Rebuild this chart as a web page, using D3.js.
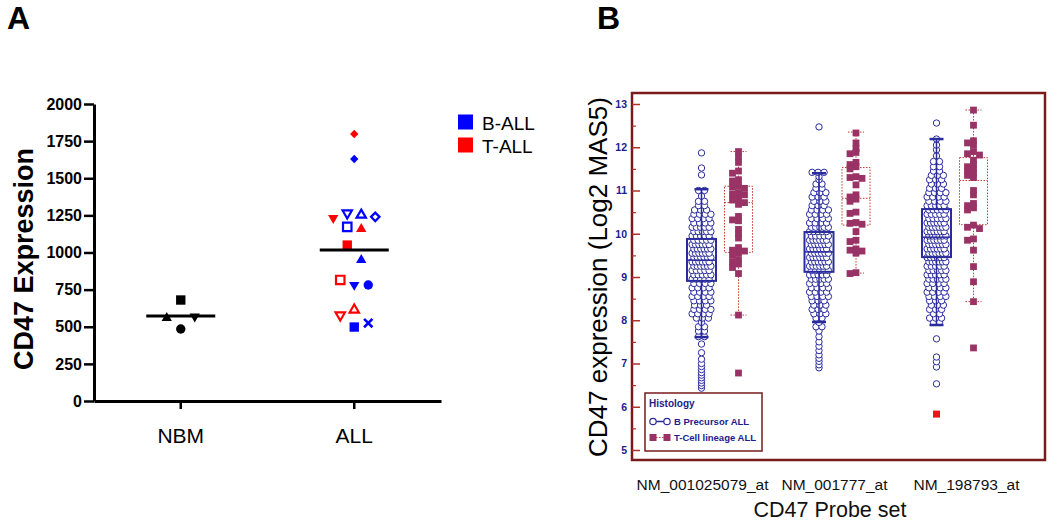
<!DOCTYPE html>
<html><head><meta charset="utf-8">
<script src="https://cdn.jsdelivr.net/npm/d3@7"></script>
<style>body{margin:0;background:#fff}</style>
</head><body>
<svg id="c" width="1050" height="525"></svg>
<script>
// ---------------- Panel A data ----------------
const aCategories = ["NBM", "ALL"];
const aYTicks = [0, 250, 500, 750, 1000, 1250, 1500, 1750, 2000];
const nbmValues = [680, 566, 562, 485];
const nbmShapes = ["square", "triangle", "triangleDown", "circle"];
const nbmJitter = [0, -2, 2, 0];
const nbmMedian = 572;
const allValues = [1798, 1630, 1225, 1259, 1259, 1240, 1172, 1165, 1050, 956, 815, 775, 781, 620, 572, 498, 525];
const allShapes = ["diamond", "diamond", "triangleDown", "triangleDown", "triangle", "diamond", "square", "triangle", "square", "triangle", "square", "triangleDown", "circle", "triangle", "triangleDown", "square", "times"];
const allFilled = [true, true, true, false, false, false, false, true, true, true, false, true, true, false, false, true, true];
const allSubtype = ["T", "B", "T", "B", "B", "B", "B", "T", "T", "B", "T", "B", "B", "T", "T", "B", "B"];
const allJitter = [0, 0, -3, -1, 1, 3, -1, 1, -1, 1, -2, 0, 2, 0, -2, 0, 2];
const allMedian = 1017;
const aLegendLabels = ["B-ALL", "T-ALL"];

// ---------------- Panel B data ----------------
const probes = ["NM_001025079_at", "NM_001777_at", "NM_198793_at"];
const bYTicks = [5, 6, 7, 8, 9, 10, 11, 12, 13];
const bYMinorTicks = [5.5, 6.5, 7.5, 8.5, 9.5, 10.5, 11.5, 12.5];
// B precursor ALL: [expression value, number of patients at that level]
const bPrecursor1 = [[6.43,1],[6.49,1],[6.55,1],[6.61,1],[6.67,1],[6.73,1],[6.79,1],[6.86,1],[6.93,1],[7.0,1],[7.1,1],[7.25,1],[7.45,1],[7.62,2],[7.75,2],[7.85,2],[7.95,1],[8.05,3],[8.15,4],[8.25,4],[8.35,3],[8.45,4],[8.55,4],[8.65,4],[8.75,4],[8.85,4],[8.95,5],[9.05,5],[9.15,5],[9.25,6],[9.35,6],[9.45,6],[9.55,6],[9.65,6],[9.75,6],[9.85,5],[9.95,5],[10.05,5],[10.15,5],[10.25,4],[10.35,4],[10.45,4],[10.55,3],[10.65,2],[10.75,2],[10.87,1],[11.0,2],[11.36,1],[11.52,1],[11.87,1]];
const bPrecursor2 = [[6.9,1],[6.97,1],[7.05,1],[7.12,1],[7.2,1],[7.3,1],[7.4,1],[7.5,1],[7.62,1],[7.75,1],[7.85,2],[7.95,1],[8.05,2],[8.15,3],[8.25,3],[8.35,3],[8.45,3],[8.55,4],[8.65,4],[8.75,4],[8.85,4],[8.95,5],[9.05,5],[9.15,5],[9.25,6],[9.35,6],[9.45,6],[9.55,6],[9.65,6],[9.75,6],[9.85,6],[9.95,5],[10.05,5],[10.15,5],[10.25,4],[10.35,4],[10.45,4],[10.55,4],[10.65,3],[10.75,3],[10.85,3],[10.95,3],[11.05,2],[11.15,2],[11.25,1],[11.32,1],[11.42,3],[12.47,1]];
const bPrecursor3 = [[6.53,1],[6.92,1],[7.04,1],[7.15,1],[7.57,1],[7.95,2],[8.05,3],[8.15,2],[8.25,3],[8.35,3],[8.45,3],[8.55,4],[8.65,4],[8.75,4],[8.85,4],[8.95,5],[9.05,5],[9.15,5],[9.25,5],[9.35,6],[9.45,6],[9.55,6],[9.65,6],[9.75,6],[9.85,6],[9.95,6],[10.05,6],[10.15,6],[10.25,6],[10.35,5],[10.45,5],[10.55,5],[10.65,5],[10.75,4],[10.85,4],[10.95,4],[11.05,3],[11.15,3],[11.25,3],[11.35,3],[11.45,2],[11.55,2],[11.67,2],[11.8,1],[11.94,1],[12.05,1],[12.19,1],[12.56,1]];
// T-cell lineage ALL: individual patients
const tCell1 = [11.9, 11.78, 11.65, 11.45, 11.4, 11.25, 11.22, 11.1, 11.08, 11.05, 10.95, 10.92, 10.9, 10.8, 10.78, 10.72, 10.68, 10.4, 10.32, 10.3, 10.1, 10.0, 9.9, 9.68, 9.62, 9.6, 9.55, 9.5, 9.4, 9.35, 9.3, 9.22, 9.08, 8.12, 6.78];
const tCell2 = [12.33, 12.1, 11.97, 11.88, 11.85, 11.65, 11.6, 11.55, 11.5, 11.32, 11.3, 11.28, 11.13, 10.9, 10.85, 10.8, 10.75, 10.5, 10.47, 10.26, 10.24, 10.22, 10.05, 9.85, 9.82, 9.65, 9.62, 9.6, 9.55, 9.1, 9.08];
const tCell3 = [12.86, 12.51, 12.15, 12.1, 12.05, 11.9, 11.85, 11.82, 11.7, 11.6, 11.55, 11.5, 11.45, 11.4, 11.35, 11.3, 11.0, 10.9, 10.7, 10.65, 10.6, 10.55, 10.2, 10.15, 10.12, 9.88, 9.85, 9.62, 9.24, 8.89, 8.43, 7.36];
// box plot statistics per probe
const bQ1 = [8.91, 9.12, 9.46];
const bMedian = [9.39, 9.58, 9.92];
const bQ3 = [9.88, 10.04, 10.57];
const bWhiskerLo = [7.61, 7.96, 7.89];
const bWhiskerHi = [11.03, 11.4, 12.19];
const tQ1 = [9.57, 10.2, 10.21];
const tMedian = [10.72, 10.82, 11.23];
const tQ3 = [11.1, 11.53, 11.76];
const tWhiskerLo = [8.12, 9.09, 8.43];
const tWhiskerHi = [11.9, 12.35, 12.86];
const strayProbe = [2];
const strayValue = [5.83];
const bLegendLabels = ["B Precursor ALL", "T-Cell lineage ALL"];

// ---------------- drawing ----------------
const svg = d3.select("#c");
const FONT = "'Liberation Sans', Arial, Helvetica, sans-serif";

svg.append("text").attr("x", 7).attr("y", 29).attr("font-family", FONT)
  .attr("font-weight", "bold").attr("font-size", 32).text("A");
svg.append("text").attr("x", 597).attr("y", 29).attr("font-family", FONT)
  .attr("font-weight", "bold").attr("font-size", 32).text("B");

// symbols
function mk(drawFn) { return { draw: drawFn }; }
const shapes = {
  square: mk((c, s) => { const h = Math.sqrt(s) / 2; c.rect(-h, -h, 2 * h, 2 * h); }),
  circle: mk((c, s) => { const h = Math.sqrt(s) / 2; c.moveTo(h, 0); c.arc(0, 0, h, 0, 2 * Math.PI); }),
  triangle: mk((c, s) => { const h = Math.sqrt(s) / 2; c.moveTo(0, -h * 1.05); c.lineTo(h * 1.1, h * 0.85); c.lineTo(-h * 1.1, h * 0.85); c.closePath(); }),
  triangleDown: mk((c, s) => { const h = Math.sqrt(s) / 2; c.moveTo(0, h * 1.05); c.lineTo(h * 1.1, -h * 0.85); c.lineTo(-h * 1.1, -h * 0.85); c.closePath(); }),
  diamond: mk((c, s) => { const h = Math.sqrt(s) / 2; c.moveTo(0, -h); c.lineTo(h, 0); c.lineTo(0, h); c.lineTo(-h, 0); c.closePath(); }),
  times: mk((c, s) => { const h = Math.sqrt(s) / 2; c.moveTo(-h, -h); c.lineTo(h, h); c.moveTo(h, -h); c.lineTo(-h, h); })
};

// ----- Panel A -----
const yA = d3.scaleLinear().domain([0, 2000]).range([401, 104]);
const xA = d3.scaleBand().domain(aCategories).range([94, 441]).padding(0);
const jitterA = d3.scaleLinear().domain([0, 1]).range([0, 7]);
const colorA = d3.scaleOrdinal().domain(["NBM", "B", "T"]).range(["#000000", "#0000ff", "#ff0000"]);
const medianHalf = d3.scaleLinear().domain([0, 1]).range([0, 34.5]);

const gA = svg.append("g");
const yAxA = gA.append("g").attr("transform", "translate(94,0)")
  .call(d3.axisLeft(yA).tickValues(aYTicks).tickFormat(d3.format("d")).tickSize(10).tickSizeOuter(0).tickPadding(2));
yAxA.select(".domain").attr("stroke", "#000").attr("stroke-width", 3);
yAxA.selectAll(".tick line").attr("stroke", "#000").attr("stroke-width", 2.5);
yAxA.selectAll(".tick text").attr("font-family", FONT).attr("font-weight", "bold")
  .attr("font-size", 16).attr("fill", "#000");

const xAxA = gA.append("g").attr("transform", "translate(0,401)")
  .call(d3.axisBottom(xA).tickSize(8).tickSizeOuter(0).tickPadding(19));
xAxA.select(".domain").attr("stroke", "#000").attr("stroke-width", 3);
xAxA.selectAll(".tick line").attr("stroke", "#000").attr("stroke-width", 2.5);
xAxA.selectAll(".tick text").attr("font-family", FONT).attr("font-size", 21).attr("fill", "#000");

gA.append("text").attr("transform", "translate(33,259) rotate(-90)")
  .attr("text-anchor", "middle").attr("font-family", FONT).attr("font-weight", "bold")
  .attr("font-size", 27).text("CD47 Expression");

const aPoints = [];
nbmValues.forEach((v, i) => aPoints.push({ cat: "NBM", v, shape: nbmShapes[i], filled: true, type: "NBM", j: nbmJitter[i] }));
allValues.forEach((v, i) => aPoints.push({ cat: "ALL", v, shape: allShapes[i], filled: allFilled[i], type: allSubtype[i], j: allJitter[i] }));
const cx = c => xA(c) + xA.bandwidth() / 2;

gA.selectAll("path.pt").data(aPoints).join("path").attr("class", "pt")
  .attr("transform", d => `translate(${cx(d.cat) + jitterA(d.j)},${yA(d.v)})`)
  .attr("d", d => d3.symbol().type(shapes[d.shape]).size(d.shape === "times" ? 70 : (d.filled ? (d.shape === "diamond" ? 70 : 88) : 72))())
  .attr("fill", d => d.shape === "times" ? "none" : (d.filled ? colorA(d.type) : "#fff"))
  .attr("stroke", d => colorA(d.type))
  .attr("stroke-width", d => d.shape === "times" ? 2.6 : (d.filled ? 0 : 2.2));

const medians = [{ cat: "NBM", v: nbmMedian }, { cat: "ALL", v: allMedian }];
gA.selectAll("line.med").data(medians).join("line").attr("class", "med")
  .attr("x1", d => cx(d.cat) - medianHalf(1)).attr("x2", d => cx(d.cat) + medianHalf(1))
  .attr("y1", d => yA(d.v)).attr("y2", d => yA(d.v))
  .attr("stroke", "#000").attr("stroke-width", 3);

const legA = gA.append("g");
const legAy = d3.scalePoint().domain(aLegendLabels).range([122, 145]);
const legAcol = d3.scaleOrdinal().domain(aLegendLabels).range(["#0000ff", "#ff0000"]);
legA.selectAll("rect").data(aLegendLabels).join("rect")
  .attr("x", 458).attr("y", d => legAy(d) - 7.5).attr("width", 15).attr("height", 15)
  .attr("fill", d => legAcol(d));
legA.selectAll("text").data(aLegendLabels).join("text")
  .attr("x", 482).attr("y", d => legAy(d) + 8).attr("font-family", FONT).attr("font-size", 19)
  .text(d => d);

// ----- Panel B -----
const NAVY = "#2a2b9c";
const MAROON = "#993366";
const DOT = "#c0392b";
const FRAME = "#7b1a1c";
const yB = d3.scaleLinear().domain([5, 13]).range([450, 104]);
const xB = d3.scalePoint().domain(probes).range([720, 955]);
const side = d3.scaleBand().domain(["B", "T"]).range([-37, 37]).padding(0);
const sideC = k => side(k) + side.bandwidth() / 2;
const xLabel = d3.scalePoint().domain(probes).range([702, 966]);
const gB = svg.append("g");

gB.append("rect").attr("x", 632).attr("y", 93).attr("width", 413).attr("height", 367)
  .attr("fill", "#fff").attr("stroke", FRAME).attr("stroke-width", 2.5);

const yAxB = gB.append("g").attr("transform", "translate(632,0)")
  .call(d3.axisLeft(yB).tickValues(bYTicks).tickSize(-8).tickSizeOuter(0).tickPadding(5).tickFormat(d3.format("d")));
yAxB.select(".domain").remove();
yAxB.selectAll(".tick line").attr("stroke", "#b0302c").attr("stroke-width", 1.5);
yAxB.selectAll(".tick text").attr("font-family", FONT).attr("font-weight", "bold")
  .attr("font-size", 10.5).attr("fill", "#1c1c8c");
const yAxBm = gB.append("g").attr("transform", "translate(632,0)")
  .call(d3.axisLeft(yB).tickValues(bYMinorTicks).tickSize(-4).tickFormat(""));
yAxBm.select(".domain").remove();
yAxBm.selectAll(".tick line").attr("stroke", "#b0302c").attr("stroke-width", 1.2);

gB.append("text").attr("transform", "translate(607,277) rotate(-90)")
  .attr("text-anchor", "middle").attr("font-family", FONT).attr("font-size", 26)
  .text("CD47 expression (Log2 MAS5)");

const xAxB = gB.append("g").attr("transform", "translate(0,460)")
  .call(d3.axisBottom(xLabel).tickSize(0).tickPadding(19));
xAxB.select(".domain").remove();
xAxB.selectAll(".tick text").attr("font-family", FONT).attr("font-size", 15.5).attr("fill", "#111");
gB.append("text").attr("x", 830).attr("y", 517).attr("text-anchor", "middle")
  .attr("font-family", FONT).attr("font-size", 21.5).attr("fill", "#111").text("CD47 Probe set");

// B precursor swarm
const bSets = [bPrecursor1, bPrecursor2, bPrecursor3];
const circles = [];
bSets.forEach((set, gi) => {
  set.forEach(([v, n], bi) => {
    const sp = n > 1 ? Math.min(6, 17 / (n - 1)) : 0;
    const stag = n > 2 ? (bi % 2 ? 0.9 : -0.9) : 0;
    for (let k = 0; k < n; k++) circles.push({ gi, v, off: (k - (n - 1) / 2) * sp + stag });
  });
});
gB.selectAll("circle.b").data(circles).join("circle").attr("class", "b")
  .attr("cx", d => xB(probes[d.gi]) + sideC("B") + d.off).attr("cy", d => yB(d.v))
  .attr("r", 3.2).attr("fill", "#fff").attr("stroke", NAVY).attr("stroke-width", 1);

// T-cell swarm (simple dodge)
function dodge(values, gi) {
  const placed = [];
  return values.slice().sort((a, b) => b - a).map(v => {
    const y = yB(v);
    let off = 0;
    for (let s = 0; s < 60; s++) {
      const cand = s === 0 ? 0 : (s % 2 ? -Math.ceil(s / 2) : Math.ceil(s / 2));
      if (!placed.some(p => Math.abs(p.x - cand) < 6 && Math.abs(p.y - y) < 3.5)) { off = cand; break; }
    }
    placed.push({ x: off, y });
    return { gi, v, off };
  });
}
const tSets = [tCell1, tCell2, tCell3];
const squares = tSets.flatMap((s, gi) => dodge(s, gi));

// T boxes & whiskers (under squares)
const tBox = probes.map((p, i) => ({ p, q1: tQ1[i], med: tMedian[i], q3: tQ3[i], lo: tWhiskerLo[i], hi: tWhiskerHi[i] }));
const tG = gB.append("g").attr("stroke", DOT).attr("stroke-width", 1).attr("stroke-dasharray", "1.5,1.5").attr("fill", "none");
tBox.forEach(d => {
  const c = xB(d.p) + sideC("T");
  tG.append("rect").attr("x", c - 14).attr("y", yB(d.q3)).attr("width", 28).attr("height", yB(d.q1) - yB(d.q3));
  tG.append("line").attr("x1", c - 14).attr("x2", c + 14).attr("y1", yB(d.med)).attr("y2", yB(d.med));
  tG.append("line").attr("x1", c).attr("x2", c).attr("y1", yB(d.hi)).attr("y2", yB(d.q3));
  tG.append("line").attr("x1", c).attr("x2", c).attr("y1", yB(d.q1)).attr("y2", yB(d.lo));
  tG.append("line").attr("x1", c - 8).attr("x2", c + 8).attr("y1", yB(d.hi)).attr("y2", yB(d.hi));
  tG.append("line").attr("x1", c - 8).attr("x2", c + 8).attr("y1", yB(d.lo)).attr("y2", yB(d.lo));
});

gB.selectAll("rect.t").data(squares).join("rect").attr("class", "t")
  .attr("x", d => xB(probes[d.gi]) + sideC("T") + d.off - 3.4).attr("y", d => yB(d.v) - 3.4)
  .attr("width", 6.8).attr("height", 6.8).attr("fill", MAROON);

// stray red mark
gB.selectAll("rect.stray").data(strayValue.map((v, i) => ({ v, gi: strayProbe[i] }))).join("rect").attr("class", "stray")
  .attr("x", d => xB(probes[d.gi]) + sideC("B") - 3.5).attr("y", d => yB(d.v) - 3.5)
  .attr("width", 7).attr("height", 7).attr("fill", "#e8141e");

// B boxes (on top)
const bBox = probes.map((p, i) => ({ p, q1: bQ1[i], med: bMedian[i], q3: bQ3[i], lo: bWhiskerLo[i], hi: bWhiskerHi[i] }));
const bG = gB.append("g").attr("stroke", NAVY).attr("fill", "none");
bBox.forEach(d => {
  const c = xB(d.p) + sideC("B");
  bG.append("rect").attr("x", c - 14.5).attr("y", yB(d.q3)).attr("width", 29).attr("height", yB(d.q1) - yB(d.q3)).attr("stroke-width", 2);
  bG.append("line").attr("x1", c - 14.5).attr("x2", c + 14.5).attr("y1", yB(d.med)).attr("y2", yB(d.med)).attr("stroke-width", 1.5);
  bG.append("line").attr("x1", c).attr("x2", c).attr("y1", yB(d.hi)).attr("y2", yB(d.q3)).attr("stroke-width", 1.5);
  bG.append("line").attr("x1", c).attr("x2", c).attr("y1", yB(d.q1)).attr("y2", yB(d.lo)).attr("stroke-width", 1.5);
  bG.append("line").attr("x1", c - 7).attr("x2", c + 7).attr("y1", yB(d.hi)).attr("y2", yB(d.hi)).attr("stroke-width", 2.5);
  bG.append("line").attr("x1", c - 7).attr("x2", c + 7).attr("y1", yB(d.lo)).attr("y2", yB(d.lo)).attr("stroke-width", 2.5);
});

// legend B
const legB = gB.append("g");
legB.append("rect").attr("x", 645).attr("y", 393).attr("width", 117).attr("height", 58)
  .attr("fill", "#fff").attr("stroke", FRAME).attr("stroke-width", 1.5);
legB.append("text").attr("x", 649).attr("y", 407).attr("font-family", FONT).attr("font-weight", "bold")
  .attr("font-size", 10).attr("fill", "#1c1c8c").text("Histology");
const legBy = d3.scalePoint().domain(bLegendLabels).range([421.5, 437.5]);
const r1 = legBy(bLegendLabels[0]), r2 = legBy(bLegendLabels[1]);
legB.append("line").attr("x1", 653).attr("x2", 667).attr("y1", r1).attr("y2", r1).attr("stroke", NAVY).attr("stroke-width", 1.5);
[653, 667].forEach(x => legB.append("circle").attr("cx", x).attr("cy", r1).attr("r", 3.2).attr("fill", "#fff").attr("stroke", NAVY).attr("stroke-width", 1.2));
legB.append("line").attr("x1", 653).attr("x2", 667).attr("y1", r2).attr("y2", r2).attr("stroke", DOT).attr("stroke-width", 1).attr("stroke-dasharray", "1.5,1.5");
[653, 667].forEach(x => legB.append("rect").attr("x", x - 3.5).attr("y", r2 - 3.5).attr("width", 7).attr("height", 7).attr("fill", MAROON));
legB.selectAll("text.li").data(bLegendLabels).join("text").attr("class", "li")
  .attr("x", 674).attr("y", d => legBy(d) + 3.5).attr("font-family", FONT).attr("font-weight", "bold")
  .attr("font-size", 9.5).attr("fill", "#1c1c8c").text(d => d);
</script>
</body></html>
